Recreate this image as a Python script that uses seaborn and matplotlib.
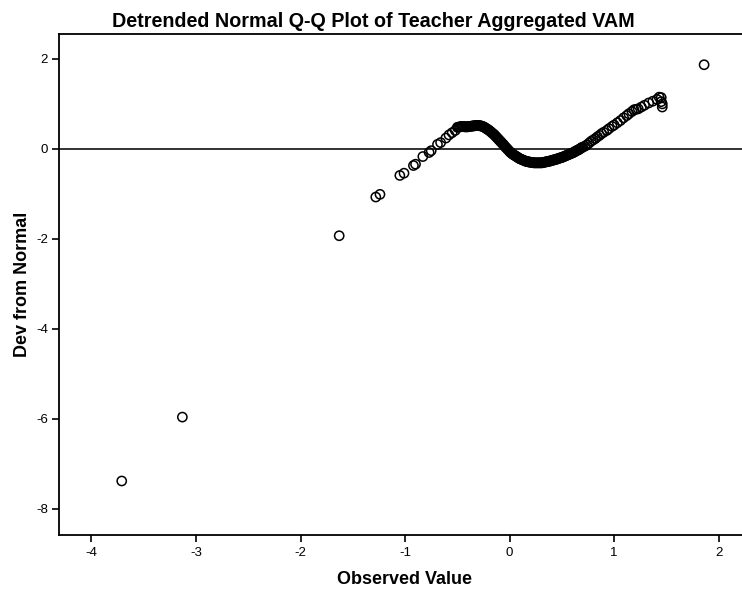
import seaborn as sns
import matplotlib.pyplot as plt
import pandas as pd

LEFT_TAIL_X = [-3.71, -3.13, -1.63, -1.28, -1.24, -1.05, -1.01, -0.92, -0.90,
               -0.83, -0.77, -0.75, -0.69, -0.66, -0.61, -0.58, -0.55, -0.52]
LEFT_TAIL_Y = [-7.38, -5.96, -1.93, -1.07, -1.01, -0.59, -0.54, -0.37, -0.34,
               -0.17, -0.08, -0.04, 0.10, 0.14, 0.24, 0.31, 0.36, 0.41]

CORE_X = [
    -0.50, -0.49, -0.48, -0.47, -0.46, -0.45, -0.44, -0.43, -0.42, -0.41,
    -0.40, -0.39, -0.38, -0.37, -0.36, -0.35, -0.34, -0.33, -0.32, -0.31,
    -0.30, -0.29, -0.28, -0.27, -0.26, -0.25, -0.24, -0.23, -0.22, -0.21,
    -0.20, -0.19, -0.18, -0.17, -0.16, -0.15, -0.14, -0.13, -0.12, -0.11,
    -0.10, -0.09, -0.08, -0.07, -0.06, -0.05, -0.04, -0.03, -0.02, -0.01,
    0.00, 0.01, 0.02, 0.03, 0.04, 0.05, 0.06, 0.07, 0.08, 0.09,
    0.10, 0.11, 0.12, 0.13, 0.14, 0.15, 0.16, 0.17, 0.18, 0.19,
    0.20, 0.21, 0.22, 0.23, 0.24, 0.25, 0.26, 0.27, 0.28, 0.29,
    0.30, 0.31, 0.32, 0.33, 0.34, 0.35, 0.36, 0.37, 0.38, 0.39,
    0.40, 0.41, 0.42, 0.43, 0.44, 0.45, 0.46, 0.47, 0.48, 0.49,
    0.50, 0.51, 0.52, 0.53, 0.54, 0.55, 0.56, 0.57, 0.58, 0.59,
    0.60, 0.61, 0.62, 0.63, 0.64, 0.65, 0.66, 0.67, 0.68, 0.69,
    0.70,
]
CORE_Y = [
    0.48, 0.48, 0.49, 0.49, 0.50, 0.50, 0.50, 0.49, 0.49, 0.49,
    0.49, 0.50, 0.50, 0.50, 0.51, 0.51, 0.51, 0.52, 0.52, 0.52,
    0.52, 0.52, 0.51, 0.51, 0.50, 0.49, 0.48, 0.46, 0.45, 0.43,
    0.42, 0.40, 0.38, 0.36, 0.34, 0.32, 0.30, 0.27, 0.25, 0.22,
    0.20, 0.17, 0.15, 0.12, 0.10, 0.07, 0.04, 0.02, -0.01, -0.03,
    -0.06, -0.08, -0.10, -0.12, -0.13, -0.15, -0.16, -0.18, -0.19, -0.21,
    -0.22, -0.23, -0.24, -0.25, -0.26, -0.27, -0.28, -0.28, -0.29, -0.29,
    -0.30, -0.30, -0.30, -0.31, -0.31, -0.31, -0.31, -0.31, -0.31, -0.31,
    -0.31, -0.31, -0.30, -0.30, -0.29, -0.29, -0.28, -0.28, -0.27, -0.27,
    -0.26, -0.25, -0.25, -0.24, -0.23, -0.23, -0.22, -0.21, -0.20, -0.20,
    -0.19, -0.18, -0.17, -0.16, -0.15, -0.14, -0.13, -0.12, -0.11, -0.10,
    -0.09, -0.08, -0.07, -0.05, -0.04, -0.03, -0.02, 0.00, 0.01, 0.03,
    0.04,
]

RIGHT_TAIL_X = [0.72, 0.74, 0.76, 0.78, 0.80, 0.82, 0.84, 0.86, 0.88, 0.90,
                0.93, 0.95, 0.98, 1.00, 1.03, 1.06, 1.09, 1.12, 1.14, 1.17,
                1.19, 1.21, 1.23, 1.26, 1.29, 1.33, 1.37, 1.41, 1.43, 1.45,
                1.45, 1.46, 1.46, 1.86]
RIGHT_TAIL_Y = [0.06, 0.09, 0.13, 0.17, 0.20, 0.23, 0.27, 0.30, 0.34, 0.37,
                0.41, 0.45, 0.50, 0.53, 0.58, 0.63, 0.69, 0.74, 0.78, 0.83,
                0.87, 0.88, 0.89, 0.93, 0.97, 1.02, 1.06, 1.10, 1.15, 1.14,
                1.05, 1.00, 0.93, 1.87]

X_TICKS = [-4, -3, -2, -1, 0, 1, 2]
Y_TICKS = [2, 0, -2, -4, -6, -8]


def main() -> None:
    df = pd.DataFrame({
        "observed": LEFT_TAIL_X + CORE_X + RIGHT_TAIL_X,
        "dev": LEFT_TAIL_Y + CORE_Y + RIGHT_TAIL_Y,
    })

    sns.set_style("ticks", {
        "text.color": "black",
        "axes.labelcolor": "black",
        "xtick.color": "black",
        "ytick.color": "black",
        "axes.edgecolor": "black",
    })
    plt.rcParams["font.family"] = ["Liberation Sans", "DejaVu Sans"]
    plt.rcParams["axes.unicode_minus"] = False

    fig = plt.figure(figsize=(7.42, 5.91), dpi=100)
    ax = fig.add_axes([0.0795, 0.094, 0.93, 0.849])

    ax.axhline(0, color="#222222", linewidth=1.3, zorder=1)
    sns.scatterplot(
        data=df, x="observed", y="dev", ax=ax,
        marker="o", s=44, facecolor="none", edgecolor="black",
        linewidth=1.1, zorder=3,
    )

    ax.set_xlim(-4.31, 2.29)
    ax.set_ylim(-8.59, 2.56)
    ax.set_xticks(X_TICKS)
    ax.set_yticks(Y_TICKS)
    ax.tick_params(axis="both", direction="out", length=5, width=1.2,
                   labelsize=9.5, color="black", labelcolor="black", pad=3)

    for side in ("left", "bottom", "top"):
        ax.spines[side].set_linewidth(1.3)
        ax.spines[side].set_color("black")
    ax.spines["right"].set_visible(False)

    ax.set_xlabel("Observed Value", fontsize=13, fontweight="bold",
                  labelpad=9, color="black")
    ax.set_ylabel("Dev from Normal", fontsize=13, fontweight="bold",
                  color="black")
    ax.yaxis.set_label_coords(-0.041, 0.5)
    fig.suptitle("Detrended Normal Q-Q Plot of Teacher Aggregated VAM",
                 x=0.503, y=0.979, fontsize=14.2, fontweight="bold",
                 color="black")

    fig.savefig("out.png", dpi=100)


if __name__ == "__main__":
    main()
